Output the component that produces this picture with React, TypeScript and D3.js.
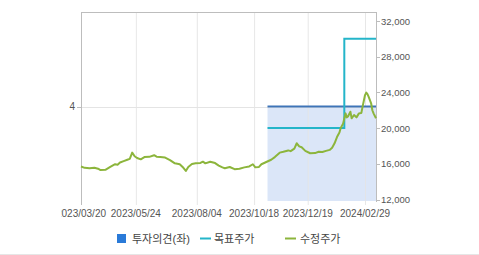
import React from "react";
import * as d3 from "d3";

// x positions are trading-day indices starting at 2023/03/20
const xTickIdx = [0, 45, 95, 142, 186, 233];
const xTickLabels = ["2023/03/20", "2023/05/24", "2023/08/04", "2023/10/18", "2023/12/19", "2024/02/29"];
const rightTicks = [12000, 16000, 20000, 24000, 28000, 32000];
const leftTicks = [4];

const priceIdx = [0, 3, 7, 11, 14, 16, 20, 24, 28, 30, 32, 35, 38, 40, 42, 44, 46, 49, 52, 56, 60, 62, 65, 69, 73, 77, 81, 84, 86, 88, 91, 94, 98, 100, 102, 106, 110, 113, 116, 118, 122, 126, 130, 134, 138, 141, 143, 146, 148, 152, 156, 159, 163, 166, 170, 172, 175, 177, 179, 181, 184, 188, 192, 195, 198, 201, 204, 206, 208, 210, 212, 213, 215, 217, 218, 219, 221, 222, 224, 226, 228, 230, 231, 233, 234, 235, 236, 238, 239, 240, 242];
const priceVal = [15700, 15550, 15500, 15560, 15450, 15300, 15330, 15650, 15950, 15900, 16150, 16300, 16450, 16550, 17250, 16850, 16650, 16500, 16750, 16780, 16960, 16800, 16760, 16700, 16420, 16050, 15950, 15550, 15200, 15650, 15980, 16050, 16100, 16240, 16050, 16230, 16080, 15800, 15600, 15500, 15640, 15400, 15450, 15600, 15700, 15950, 15600, 15650, 15950, 16200, 16450, 16750, 17250, 17350, 17500, 17420, 17700, 18300, 17950, 17850, 17450, 17180, 17200, 17350, 17320, 17450, 17560, 17800, 18300, 19000, 19500, 19980, 20500, 21650, 21200, 21300, 21840, 21100, 21470, 21200, 21650, 21700, 22400, 23700, 23970, 23800, 23500, 22780, 22000, 21650, 21100];

const targetIdx = [153, 216, 242];
const targetVal = [20000, 30000, 30000];

const opinionIdx = [153, 242];
const opinionVal = [4, 4];

const legendLabels = ["투자의견(좌)", "목표주가", "수정주가"];

export default function App() {
  const W = 479, H = 255;
  const L = 81, R = 376, T = 12, B = 201;
  const x = d3.scaleLinear().domain([0, 242]).range([L, R]);
  const yR = d3.scaleLinear().domain([12000, 32000]).range([199.5, 21]);
  const yL = d3.scaleLinear().domain([0, 8]).range([B, T]);

  const pricePts: [number, number][] = priceIdx.map((d, i) => [d, priceVal[i]]);
  const targetPts: [number, number][] = targetIdx.map((d, i) => [d, targetVal[i]]);
  const opPts: [number, number][] = opinionIdx.map((d, i) => [d, opinionVal[i]]);

  const priceLine = d3.line<[number, number]>().x(d => x(d[0])).y(d => yR(d[1]))(pricePts) || "";
  const targetLine = d3.line<[number, number]>().x(d => x(d[0])).y(d => yR(d[1])).curve(d3.curveStepAfter)(targetPts) || "";
  const opArea = d3.area<[number, number]>().x(d => x(d[0])).y0(B).y1(d => yL(d[1]))(opPts) || "";
  const opLine = d3.line<[number, number]>().x(d => x(d[0])).y(d => yL(d[1]))(opPts) || "";

  const font = "'Liberation Sans', Arial, 'Noto Sans CJK KR', sans-serif";
  const axisColor = "#bdbdbd";
  const gridColor = "#e4e4e4";
  const textColor = "#555";

  return (
    <svg width={W} height={H} style={{ position: "absolute", left: 0, top: 0, background: "#fff" }} fontFamily={font}>
      <defs>
        <clipPath id="xclip">
          <rect x={61} y={0} width={W - 61} height={H} />
        </clipPath>
      </defs>
      <rect x={0} y={0} width={W} height={H} fill="#fff" />
      <path d={opArea} fill="#dbe6f8" />
      {/* grid */}
      {xTickIdx.slice(1).map((t, i) => (
        <line key={"g" + i} x1={x(t) + 0.5} x2={x(t) + 0.5} y1={T} y2={B + 4} stroke={gridColor} strokeOpacity={0.9} />
      ))}
      {leftTicks.map((t, i) => (
        <line key={"h" + i} x1={L} x2={R} y1={Math.round(yL(t)) + 0.5} y2={Math.round(yL(t)) + 0.5} stroke={gridColor} />
      ))}
      {/* frame */}
      <line x1={L} x2={R} y1={T + 0.5} y2={T + 0.5} stroke={axisColor} />
      <line x1={L + 0.5} x2={L + 0.5} y1={T} y2={B + 4} stroke={axisColor} />
      <line x1={R + 0.5} x2={R + 0.5} y1={T} y2={B + 1} stroke={axisColor} />
      {/* left ticks */}
      {leftTicks.map((t, i) => (
        <g key={"l" + i}>
          <line x1={L - 4} x2={L} y1={Math.round(yL(t)) + 0.5} y2={Math.round(yL(t)) + 0.5} stroke={axisColor} />
          <text x={L - 6} y={yL(t)} fontSize={10} fill={textColor} textAnchor="end" dominantBaseline="central">{t}</text>
        </g>
      ))}
      {/* right ticks */}
      {rightTicks.map((t, i) => (
        <g key={"r" + i}>
          <line x1={R} x2={R + 4} y1={Math.round(yR(t)) + 0.5} y2={Math.round(yR(t)) + 0.5} stroke={axisColor} />
          <text x={R + 5} y={yR(t)} fontSize={9.5} fill={textColor} dominantBaseline="central">{d3.format(",")(t)}</text>
        </g>
      ))}
      {/* x tick labels */}
      <g clipPath="url(#xclip)">
        {xTickIdx.map((t, i) => (
          <text key={"x" + i} x={x(t)} y={213} fontSize={10} fill={textColor} textAnchor="middle" dominantBaseline="central">{xTickLabels[i]}</text>
        ))}
      </g>
      {/* series */}
      <path d={opLine} fill="none" stroke="#3e74b8" strokeWidth={2} />
      <path d={targetLine} fill="none" stroke="#24b5c9" strokeWidth={2} />
      <path d={priceLine} fill="none" stroke="#8cb53c" strokeWidth={2} strokeLinejoin="round" />
      {/* legend */}
      <rect x={117} y={234} width={9} height={9} fill="#2a7ad8" />
      <text x={132} y={238.5} fontSize={11} fill="#444" dominantBaseline="central">{legendLabels[0]}</text>
      <line x1={200} x2={211} y1={238.5} y2={238.5} stroke="#24b5c9" strokeWidth={2} />
      <text x={214} y={238.5} fontSize={11} fill="#444" dominantBaseline="central">{legendLabels[1]}</text>
      <line x1={285} x2={296} y1={238.5} y2={238.5} stroke="#8cb53c" strokeWidth={2} />
      <text x={300} y={238.5} fontSize={11} fill="#444" dominantBaseline="central">{legendLabels[2]}</text>
      <line x1={0} x2={W} y1={254.5} y2={254.5} stroke="#e6e6e6" />
    </svg>
  );
}
